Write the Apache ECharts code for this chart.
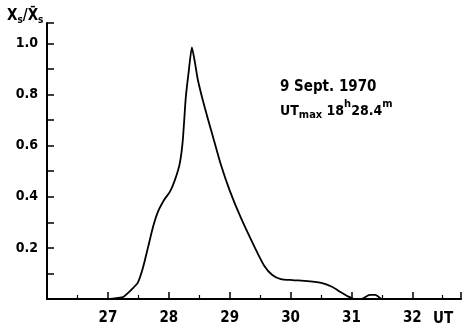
<!DOCTYPE html>
<html><head><meta charset="utf-8">
<script src="https://cdn.jsdelivr.net/npm/echarts@6/dist/echarts.min.js"></script>
<style>html,body{margin:0;padding:0;background:#fff}#c{width:464px;height:331px}</style>
</head><body><div id="c"></div>
<script>
const utValues = [27.03,27.16,27.25,27.38,27.49,27.57,27.66,27.74,27.82,27.93,28.02,28.10,28.18,28.23,28.28,28.33,28.38,28.43,28.48,28.59,28.72,28.85,29.00,29.18,29.41,29.57,29.70,29.84,30.03,30.28,30.52,30.69,30.82,30.93,31.05,31.16,31.30,31.39,31.49];
const ratioValues = [0,0.004,0.008,0.035,0.063,0.117,0.203,0.281,0.34,0.39,0.42,0.465,0.53,0.62,0.79,0.895,0.985,0.925,0.855,0.75,0.64,0.53,0.425,0.32,0.203,0.129,0.094,0.078,0.074,0.07,0.0625,0.047,0.027,0.012,0,0,0.016,0.016,0];
const xTickLabels = [27,28,29,30,31,32];
const yTickLabels = [0.2,0.4,0.6,0.8,1.0];

const font = '"Liberation Sans Narrow", "DejaVu Sans Condensed", sans-serif';
const chart = echarts.init(document.getElementById('c'));
chart.setOption({
  animation: false,
  grid: {left: 47, right: 1, top: 23, bottom: 32},
  xAxis: {
    type: 'value', min: 26, max: 32.8, interval: 1,
    axisLine: {lineStyle: {color: '#000', width: 2}},
    axisTick: {inside: true, length: 7, lineStyle: {color: '#000', width: 1.5}},
    minorTick: {show: true, splitNumber: 2, length: 4, lineStyle: {color: '#000', width: 1.2}},
    splitLine: {show: false},
    axisLabel: {margin: 12, color: '#000', fontFamily: font, fontWeight: 'bold', fontSize: 15,
      formatter: v => xTickLabels.includes(Math.round(v)) && Math.abs(v - Math.round(v)) < 1e-6 ? String(Math.round(v)) : ''}
  },
  yAxis: {
    type: 'value', min: 0, max: 1.08, interval: 0.1,
    axisLine: {show: true, lineStyle: {color: '#000', width: 2}},
    axisTick: {show: true, inside: true, length: 7, lineStyle: {color: '#000', width: 1.5}},
    splitLine: {show: false},
    axisLabel: {margin: 9, color: '#000', fontFamily: font, fontWeight: 'bold', fontSize: 14,
      formatter: v => {
        const m = yTickLabels.find(t => Math.abs(t - v) < 1e-6);
        return m === undefined ? '' : m.toFixed(1);
      }}
  },
  series: [{
    type: 'line', data: utValues.map((x, i) => [x, ratioValues[i]]),
    smooth: 0.2, showSymbol: false, lineStyle: {color: '#000', width: 1.8}
  }],
  graphic: [
    {type: 'text', left: 7, top: 9, style: {
      text: '{b|X}{s|s}{b|/X̄}{s|s}', rich: {
        b: {fontFamily: font, fontWeight: 'bold', fontSize: 15, fill: '#000'},
        s: {fontFamily: font, fontWeight: 'bold', fontSize: 10, fill: '#000', padding: [8, 0, 0, 0]}
      }}},
    {type: 'text', left: 280, top: 80, style: {
      text: '9 Sept. 1970', fontFamily: font, fontWeight: 'bold', fontSize: 15, fill: '#000'}},
    {type: 'text', left: 280, top: 99, style: {
      text: '{b|UT}{s|max}{b| 18}{p|h}{b|28.4}{p|m}', rich: {
        b: {fontFamily: font, fontWeight: 'bold', fontSize: 14, fill: '#000', padding: [6, 0, 0, 0]},
        s: {fontFamily: font, fontWeight: 'bold', fontSize: 11, fill: '#000', padding: [14, 0, 0, 0]},
        p: {fontFamily: font, fontWeight: 'bold', fontSize: 11, fill: '#000', padding: [0, 0, 8, 0]}
      }}},
    {type: 'text', left: 433, top: 312, style: {
      text: 'UT', fontFamily: font, fontWeight: 'bold', fontSize: 15, fill: '#000'}}
  ]
});
</script></body></html>
